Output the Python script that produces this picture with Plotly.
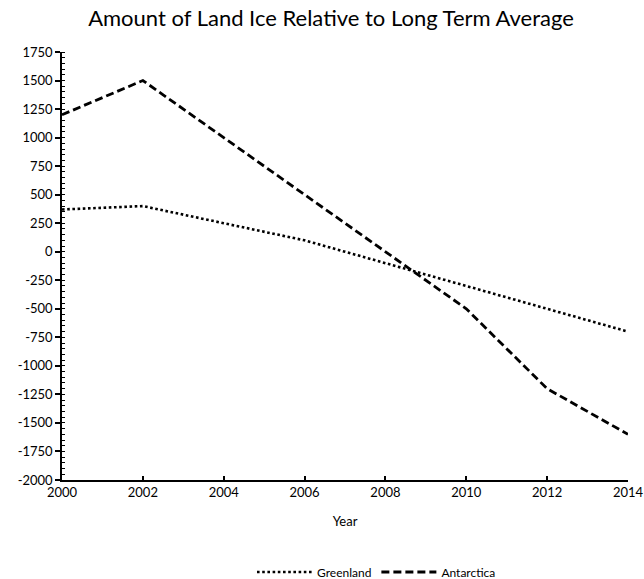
import plotly.graph_objects as go

years = [2000, 2002, 2004, 2006, 2008, 2010, 2012, 2014]
greenland = [370, 400, 250, 100, -100, -300, -500, -700]
antarctica = [1200, 1500, 1000, 500, 0, -500, -1200, -1600]

y_ticks = list(range(-2000, 1751, 250))
y_tick_text = [str(v) for v in y_ticks]
x_ticks = list(range(2000, 2015, 2))

font_family = "Lato, 'Open Sans', sans-serif"

fig = go.Figure()
fig.add_trace(go.Scatter(
    x=years, y=greenland, name="Greenland", mode="lines",
    line=dict(color="black", width=2.6, dash="2.6px,2.6px"),
))
fig.add_trace(go.Scatter(
    x=years, y=antarctica, name="Antarctica", mode="lines",
    line=dict(color="black", width=2.8, dash="8px,4px"),
))

fig.update_layout(
    width=644, height=579,
    margin=dict(l=62, r=16, t=52, b=99),
    paper_bgcolor="white", plot_bgcolor="white",
    font=dict(family=font_family, color="black", size=14),
    title=dict(
        text="Amount of Land Ice Relative to Long Term Average",
        x=331 / 644, xref="container", xanchor="center",
        y=1 - 18 / 579, yref="container", yanchor="middle",
        font=dict(size=22, family=font_family, color="black"),
    ),
    showlegend=True,
    legend=dict(
        orientation="h", x=252 / 644, xref="container", xanchor="left",
        y=(579 - 572) / 579, yref="container", yanchor="middle",
        font=dict(size=12), tracegroupgap=0, itemwidth=55,
    ),
)

fig.update_xaxes(
    range=[2000, 2014], tickmode="array", tickvals=x_ticks,
    showgrid=False, zeroline=False, automargin=False,
    showline=True, linecolor="black", linewidth=1.5,
    ticks="inside", ticklen=4, tickcolor="black", tickwidth=1.5,
    tickfont=dict(size=13),
    title=dict(text="Year", font=dict(size=13), standoff=18),
)
fig.update_yaxes(
    range=[-2000, 1750], tickmode="array", tickvals=y_ticks, ticktext=y_tick_text,
    showgrid=False, zeroline=False, automargin=False,
    showline=True, linecolor="black", linewidth=1.5,
    ticks="outside", ticklen=5, tickcolor="black", tickwidth=1.5,
    minor=dict(ticks="inside", dtick=50, ticklen=3, tickcolor="black", tickwidth=1, showgrid=False),
    tickfont=dict(size=13),
)

fig.write_html("out.html")
